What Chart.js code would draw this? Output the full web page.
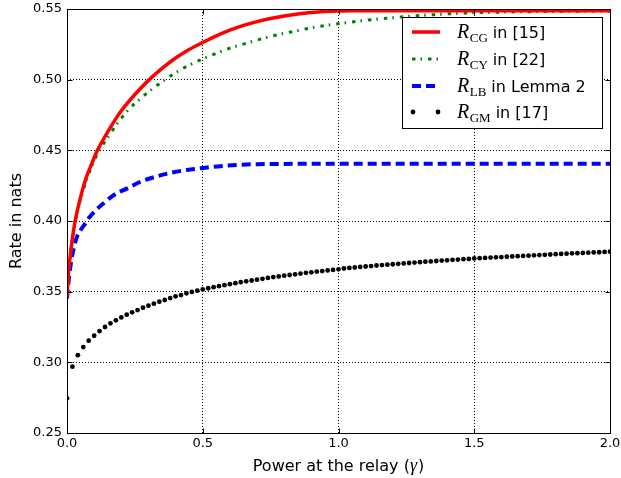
<!DOCTYPE html>
<html><head><meta charset="utf-8">
<script src="https://cdn.jsdelivr.net/npm/chart.js@4"></script>
<style>html,body{margin:0;padding:0;background:#fff;}canvas{display:block;}</style>
</head><body>
<canvas id="c" width="621" height="478"></canvas>
<script>
// ---- data ----
const cgX = [0, 0.005, 0.01, 0.02, 0.03, 0.045, 0.06, 0.075, 0.09, 0.112, 0.143, 0.173, 0.2, 0.25, 0.3, 0.35, 0.4, 0.45, 0.5, 0.55, 0.6, 0.65, 0.7, 0.75, 0.8, 0.85, 0.9, 0.95, 1.0, 1.05, 1.2, 1.5, 2.0];
const cgY = [0.345, 0.362, 0.372, 0.388, 0.400, 0.413, 0.424, 0.433, 0.440, 0.450, 0.4608, 0.4703, 0.478, 0.4895, 0.4995, 0.508, 0.5153, 0.5213, 0.5263, 0.531, 0.535, 0.5384, 0.5411, 0.5433, 0.5451, 0.5465, 0.5475, 0.5482, 0.5486, 0.5488, 0.5488, 0.5488, 0.5488];

const cyX = [0, 0.005, 0.01, 0.02, 0.03, 0.045, 0.06, 0.075, 0.09, 0.112, 0.156, 0.192, 0.231, 0.276, 0.325, 0.374, 0.427, 0.485, 0.54, 0.599, 0.659, 0.718, 0.776, 0.836, 0.898, 0.959, 1.02, 1.08, 1.144, 1.2, 1.267, 1.35, 1.45, 1.6, 1.8, 2.0];
const cyY = [0.345, 0.361, 0.371, 0.387, 0.399, 0.412, 0.422, 0.431, 0.438, 0.4475, 0.4608, 0.4707, 0.4797, 0.4875, 0.495, 0.5017, 0.508, 0.5134, 0.5179, 0.5222, 0.5257, 0.529, 0.5318, 0.5342, 0.5366, 0.5385, 0.5401, 0.5415, 0.5429, 0.5438, 0.545, 0.546, 0.547, 0.5478, 0.5483, 0.5486];

const lbX = [0, 0.005, 0.01, 0.015, 0.025, 0.035, 0.05, 0.063, 0.08, 0.1, 0.137, 0.173, 0.222, 0.271, 0.326, 0.374, 0.424, 0.479, 0.528, 0.583, 0.638, 0.7, 0.8, 1.0, 1.5, 2.0];
const lbY = [0.345, 0.356, 0.364, 0.371, 0.381, 0.388, 0.3935, 0.3971, 0.4020, 0.4065, 0.4129, 0.4184, 0.4231, 0.4278, 0.4313, 0.4337, 0.4356, 0.437, 0.4382, 0.4391, 0.4398, 0.4402, 0.4404, 0.4405, 0.4405, 0.4405];

const gmX = [0.00,0.02,0.04,0.06,0.08,0.10,0.12,0.14,0.16,0.18,0.20,0.22,0.24,0.26,0.28,0.30,0.32,0.34,0.36,0.38,0.40,0.42,0.44,0.46,0.48,
  0.50,0.52,0.54,0.56,0.58,0.60,0.62,0.64,0.66,0.68,0.70,0.72,0.74,0.76,0.78,0.80,0.82,0.84,0.86,0.88,0.90,0.92,0.94,0.96,0.98,1.00,
  1.02,1.04,1.06,1.08,1.10,1.12,1.14,1.16,1.18,1.20,1.22,1.24,1.26,1.28,1.30,1.32,1.34,1.36,1.38,1.40,1.42,1.44,1.46,1.48,1.50,
  1.52,1.54,1.56,1.58,1.60,1.62,1.64,1.66,1.68,1.70,1.72,1.74,1.76,1.78,1.80,1.82,1.84,1.86,1.88,1.90,1.92,1.94,1.96,1.98,2.00];
const gmY = [0.2745,0.2969,0.3051,0.3108,0.3153,0.3188,0.3221,0.3250,0.3276,0.3297,0.3318,0.3337,0.3354,0.3370,0.3387,0.3401,0.3415,0.3429,0.3441,0.3455,0.3467,0.3476,0.3488,0.3498,0.3507,
  0.3516,0.3524,0.3532,0.3539,0.3546,0.3553,0.3560,0.3567,0.3573,0.3579,0.3585,0.3591,0.3597,0.3603,0.3608,0.3613,0.3618,0.3623,0.3628,0.3633,0.3637,0.3642,0.3646,0.3650,0.3654,0.3658,
  0.3664,0.3668,0.3671,0.3675,0.3678,0.3681,0.3685,0.3688,0.3691,0.3694,0.3697,0.3700,0.3703,0.3706,0.3709,0.3712,0.3714,0.3717,0.3720,0.3722,0.3725,0.3727,0.3730,0.3732,0.3735,
  0.3737,0.3739,0.3741,0.3743,0.3745,0.3747,0.3749,0.3751,0.3753,0.3755,0.3757,0.3759,0.3761,0.3763,0.3765,0.3767,0.3769,0.3771,0.3772,0.3774,0.3776,0.3778,0.3779,0.3781,0.3783];

const xTickValues = [0, 0.5, 1.0, 1.5, 2.0];
const xTickLabels = ['0.0', '0.5', '1.0', '1.5', '2.0'];
const yTickValues = [0.25, 0.30, 0.35, 0.40, 0.45, 0.50, 0.55];
const yTickLabels = ['0.25', '0.30', '0.35', '0.40', '0.45', '0.50', '0.55'];

const legendMain = ['R', 'R', 'R', 'R'];
const legendSub = ['CG', 'CY', 'LB', 'GM'];
const legendRest = ['in [15]', 'in [22]', 'in Lemma 2', 'in [17]'];
const xTitle = ['Power at the relay (', 'γ', ')'];
const yTitle = 'Rate in nats';

// ---- helpers ----
const pts = (xs, ys) => xs.map((x, i) => ({x: x, y: ys[i]}));
const SANS = '"DejaVu Sans", sans-serif';
const SERIF = '"Liberation Serif", "DejaVu Serif", serif';

const styles = [
  {color: '#ff0000', width: 3.5, dash: []},
  {color: '#008000', width: 3, dash: [3.5, 5, 1.5, 6]},
  {color: '#0000ff', width: 4, dash: [9, 5]},
  {color: '#000000', dot: true, r: 2.4}
];

const decor = {
  id: 'decor',
  afterDatasetsDraw(chart) {
    const {ctx, chartArea: a, scales: {x, y}} = chart;
    ctx.save();
    ctx.strokeStyle = '#000';
    ctx.lineWidth = 1;
    ctx.setLineDash([]);
    const L = Math.round(a.left) + 0.5, R = Math.round(a.right) + 0.5;
    const T = Math.round(a.top) + 0.5, B = Math.round(a.bottom) + 0.5;
    ctx.strokeRect(L, T, R - L, B - T);
    ctx.beginPath();
    xTickValues.forEach(v => {
      const px = Math.round(x.getPixelForValue(v)) + 0.5;
      ctx.moveTo(px, B); ctx.lineTo(px, B - 5);
      ctx.moveTo(px, T); ctx.lineTo(px, T + 5);
    });
    yTickValues.forEach(v => {
      const py = Math.round(y.getPixelForValue(v)) + 0.5;
      ctx.moveTo(L, py); ctx.lineTo(L + 5, py);
      ctx.moveTo(R, py); ctx.lineTo(R - 5, py);
    });
    ctx.stroke();
    ctx.restore();
  },
  afterDraw(chart) {
    const {ctx, chartArea: a} = chart;
    ctx.save();
    // axis titles
    ctx.fillStyle = '#000';
    ctx.textBaseline = 'alphabetic';
    ctx.font = '16px ' + SANS;
    const w0 = ctx.measureText(xTitle[0]).width;
    const w2 = ctx.measureText(xTitle[2]).width;
    ctx.font = 'italic 18px ' + SERIF;
    const w1 = ctx.measureText(xTitle[1]).width + 1;
    let tx = (a.left + a.right) / 2 - (w0 + w1 + w2) / 2;
    const ty = 471;
    ctx.font = '16px ' + SANS;
    ctx.textAlign = 'left';
    ctx.fillText(xTitle[0], tx, ty);
    ctx.font = 'italic 18px ' + SERIF;
    ctx.fillText(xTitle[1], tx + w0, ty);
    ctx.font = '16px ' + SANS;
    ctx.fillText(xTitle[2], tx + w0 + w1, ty);

    ctx.save();
    ctx.translate(17, (a.top + a.bottom) / 2);
    ctx.rotate(-Math.PI / 2);
    ctx.textAlign = 'center';
    ctx.textBaseline = 'middle';
    ctx.font = '16px ' + SANS;
    ctx.fillText(yTitle, 0, 0);
    ctx.restore();

    // legend
    const bx = 402.5, by = 17.5, bw = 200, bh = 111;
    ctx.fillStyle = '#fff';
    ctx.fillRect(bx, by, bw, bh);
    ctx.strokeStyle = '#000';
    ctx.lineWidth = 1;
    ctx.setLineDash([]);
    ctx.strokeRect(bx, by, bw, bh);
    const rows = [32, 59, 86, 112];
    for (let i = 0; i < 4; i++) {
      const s = styles[i];
      const cy = rows[i];
      if (s.dot) {
        ctx.fillStyle = s.color;
        [413, 438].forEach(px => { ctx.beginPath(); ctx.arc(px, cy, s.r, 0, Math.PI * 2); ctx.fill(); });
      } else {
        ctx.strokeStyle = s.color;
        ctx.lineWidth = s.width;
        ctx.setLineDash(s.dash);
        ctx.lineCap = 'butt';
        ctx.beginPath(); ctx.moveTo(412, cy); ctx.lineTo(440, cy); ctx.stroke();
        ctx.setLineDash([]);
      }
      ctx.fillStyle = '#000';
      ctx.textAlign = 'left';
      ctx.textBaseline = 'alphabetic';
      let lx = 457;
      const base = cy + 6;
      ctx.font = 'italic 20px ' + SERIF;
      ctx.fillText(legendMain[i], lx, base);
      lx += ctx.measureText(legendMain[i]).width + 0.5;
      ctx.font = '13px ' + SERIF;
      ctx.fillText(legendSub[i], lx, base + 3.5);
      lx += ctx.measureText(legendSub[i]).width + 5;
      ctx.font = '16px ' + SANS;
      ctx.fillText(legendRest[i], lx, base);
    }
    ctx.restore();
  }
};

const lineDs = (label, xs, ys, s) => ({
  label: label,
  data: pts(xs, ys),
  showLine: true,
  borderColor: s.color,
  backgroundColor: s.color,
  borderWidth: s.width,
  borderDash: s.dash,
  pointRadius: 0,
  pointHoverRadius: 0,
  cubicInterpolationMode: 'monotone',
  fill: false
});

new Chart(document.getElementById('c'), {
  type: 'scatter',
  data: {
    datasets: [
      Object.assign(lineDs('R_GM in [17]', gmX, gmY, {color: '#000', width: 0, dash: []}), {
        showLine: false, pointRadius: styles[3].r, pointBackgroundColor: '#000', pointBorderWidth: 0, order: 4
      }),
      Object.assign(lineDs('R_LB in Lemma 2', lbX, lbY, styles[2]), {order: 3}),
      Object.assign(lineDs('R_CY in [22]', cyX, cyY, styles[1]), {order: 2}),
      Object.assign(lineDs('R_CG in [15]', cgX, cgY, styles[0]), {order: 1})
    ]
  },
  options: {
    responsive: false,
    animation: false,
    devicePixelRatio: 1,
    layout: {padding: {top: 9, right: 11, left: 0, bottom: 0}},
    plugins: {legend: {display: false}, tooltip: {enabled: false}, title: {display: false}},
    scales: {
      x: {
        type: 'linear', min: 0, max: 2,
        afterBuildTicks: s => { s.ticks = xTickValues.map(v => ({value: v})); },
        afterFit: s => { s.height = 45; s.paddingLeft = 0; s.paddingRight = 0; },
        ticks: {
          callback: (v, i) => xTickLabels[i],
          font: {family: 'DejaVu Sans', size: 13},
          color: '#000', padding: 3, maxRotation: 0, autoSkip: false
        },
        grid: {color: '#000', lineWidth: 1, drawTicks: false},
        border: {display: false, dash: [1, 2]}
      },
      y: {
        type: 'linear', min: 0.25, max: 0.55,
        afterBuildTicks: s => { s.ticks = yTickValues.map(v => ({value: v})); },
        afterFit: s => { s.width = 67; s.paddingTop = 0; s.paddingBottom = 0; },
        ticks: {
          callback: (v, i) => yTickLabels[i],
          font: {family: 'DejaVu Sans', size: 13},
          color: '#000', padding: 5, autoSkip: false
        },
        grid: {color: '#000', lineWidth: 1, drawTicks: false},
        border: {display: false, dash: [1, 2]}
      }
    }
  },
  plugins: [decor]
});
</script>
</body></html>
